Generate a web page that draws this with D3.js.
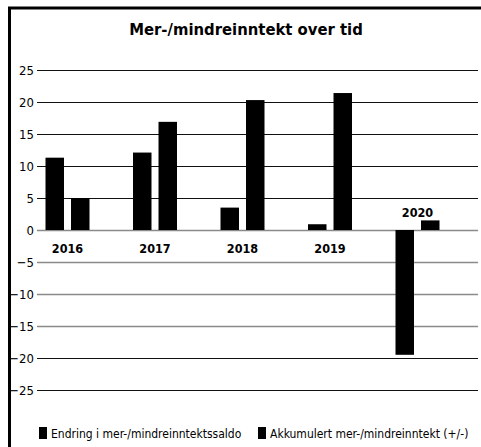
<!DOCTYPE html>
<html>
<head>
<meta charset="utf-8">
<script src="https://cdn.jsdelivr.net/npm/d3@7"></script>
<style>
    body { margin: 0; background: #fff; }
    svg text { font-family: "DejaVu Sans Condensed", "DejaVu Sans", sans-serif; fill: #000; }
</style>
</head>
<body>
<div id="chart"></div>
<script>
// chart data
const years = ["2016", "2017", "2018", "2019", "2020"];
const seriesNames = ["Endring i mer-/mindreinntektssaldo", "Akkumulert mer-/mindreinntekt (+/-)"];
const endring = [11.3, 12.1, 3.5, 0.9, -19.5];
const akkumulert = [5.0, 16.9, 20.3, 21.4, 1.5];
const yTicks = [25, 20, 15, 10, 5, 0, -5, -10, -15, -20, -25];

const W = 481, H = 447;
const margin = { top: 70, right: 3, bottom: 57, left: 37 },
    width = W - margin.left - margin.right,
    height = H - margin.top - margin.bottom;

const svg = d3.select("#chart")
    .append("svg")
    .attr("width", W)
    .attr("height", H);

// outer frame (runs off the right and bottom edge)
svg.append("rect")
    .attr("x", 9.5)
    .attr("y", 8)
    .attr("width", 500)
    .attr("height", 500)
    .attr("fill", "none")
    .attr("stroke", "#000")
    .attr("stroke-width", 3);

svg.append("text")
    .attr("x", 246)
    .attr("y", 35)
    .attr("text-anchor", "middle")
    .style("font-size", "16.5px")
    .style("font-weight", "bold")
    .text("Mer-/mindreinntekt over tid");

const g = svg.append("g")
    .attr("transform", `translate(${margin.left},${margin.top})`);

const y = d3.scaleLinear()
    .domain([-25, 25])
    .range([height, 0]);

// year groups
const x = d3.scaleBand()
    .domain(years)
    .range([-13.25, 424.25]);

const xSub = d3.scaleBand()
    .domain([0, 1])
    .range([-22, 22])
    .paddingInner(0.275);

// gridlines + tick labels
const greyTicks = new Set([0, -5, -10, -15]);
const yAxis = g.append("g")
    .call(d3.axisLeft(y).tickValues(yTicks).tickSize(-width).tickPadding(3).tickFormat(d3.format("d")));
yAxis.select(".domain").remove();
yAxis.selectAll(".tick line")
    .attr("stroke", d => greyTicks.has(d) ? "#8a8a8a" : "#111")
    .attr("stroke-width", d => greyTicks.has(d) ? 1.3 : 1.2);
yAxis.selectAll(".tick text")
    .style("font-size", "13px")
    .style("font-family", "\"DejaVu Sans Condensed\", sans-serif")
    .attr("fill", "#000");

const rows = years.map((yr, i) => ({ year: yr, vals: [endring[i], akkumulert[i]] }));

const groups = g.selectAll("g.year")
    .data(rows)
    .enter()
    .append("g")
    .attr("class", "year")
    .attr("transform", d => `translate(${x(d.year) + x.bandwidth() / 2},0)`);

groups.selectAll("rect")
    .data(d => d.vals.map((v, k) => ({ k, v })))
    .enter()
    .append("rect")
    .attr("x", d => xSub(d.k))
    .attr("width", xSub.bandwidth())
    .attr("y", d => y(Math.max(0, d.v)))
    .attr("height", d => Math.abs(y(d.v) - y(0)))
    .attr("fill", "#000");

// year labels: below the zero line, above it when the first bar goes negative
groups.append("text")
    .attr("x", 0)
    .attr("y", d => d.vals[0] >= 0 ? y(0) + 23 : y(0) - 13)
    .attr("text-anchor", "middle")
    .style("font-size", "12.5px")
    .style("font-weight", "bold")
    .text(d => d.year);

// legend
const legend = svg.append("g")
    .attr("transform", "translate(39,427)");
const legendX = [0, 219];
seriesNames.forEach((name, i) => {
    legend.append("rect")
        .attr("x", legendX[i])
        .attr("y", 0)
        .attr("width", 8)
        .attr("height", 12)
        .attr("fill", "#000");
    legend.append("text")
        .attr("x", legendX[i] + 12)
        .attr("y", 10.5)
        .style("font-size", "12px")
        .text(name);
});
</script>
</body>
</html>
